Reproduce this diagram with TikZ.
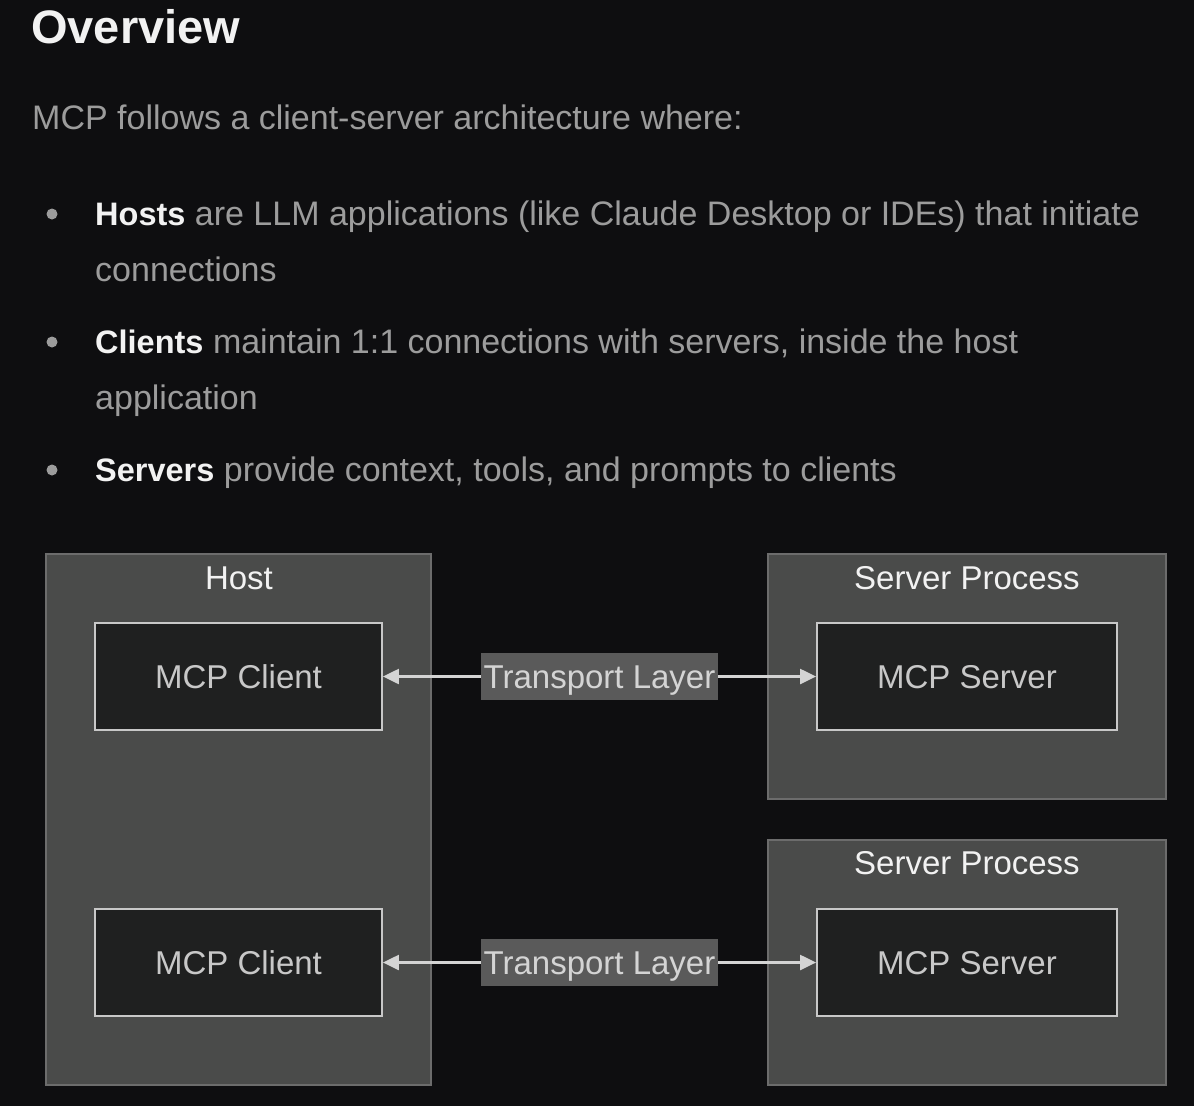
\documentclass[tikz,border=0pt]{standalone}
\usepackage{fontspec}
\setmainfont{Liberation Sans}
\usetikzlibrary{arrows.meta}
\definecolor{bg}{HTML}{0E0E10}
\definecolor{bodytxt}{HTML}{9C9C9C}
\definecolor{strongtxt}{HTML}{F2F2F2}
\definecolor{outerfill}{HTML}{4A4B4A}
\definecolor{outerline}{HTML}{6C6C6C}
\definecolor{innerfill}{HTML}{1F2020}
\definecolor{innerline}{HTML}{C8C8C8}
\definecolor{labfill}{HTML}{5A5A5A}
\definecolor{arrcol}{HTML}{D4D4D4}
\tikzset{
  x=1pt, y=-1pt,
  diagfont/.style={font=\fontsize{33}{38}\selectfont},
  outerbox/.style={draw=outerline, fill=outerfill, line width=1.5pt, rectangle, inner sep=0pt},
  innerbox/.style={draw=innerline, fill=innerfill, line width=1.8pt, rectangle, inner sep=0pt,
    minimum height=107pt, text=innerline, diagfont, text height=31.6pt, text depth=8pt},
  boxtitle/.style={text=strongtxt, diagfont, inner sep=0pt, anchor=base},
  translabel/.style={fill=labfill, inner sep=0pt, minimum width=237pt, minimum height=47pt,
    text=arrcol, diagfont, text height=31.6pt, text depth=8pt},
  arr/.style={draw=arrcol, line width=2.2pt, -{Triangle[length=16pt,width=15pt]}},
  bodyline/.style={anchor=base west, inner sep=0pt, text=bodytxt, font=\fontsize{34}{40}\selectfont},
  bulletdot/.style={circle, fill=bodytxt, inner sep=0pt, minimum size=11pt}
}
\newcommand{\strongword}[1]{\textcolor{strongtxt}{\fontsize{32.5}{40}\selectfont\bfseries #1}}
\begin{document}
\begin{tikzpicture}
\fill[bg] (0,0) rectangle (1194,1106);
\useasboundingbox (0,0) rectangle (1194,1106);

% heading and text
\node[anchor=base west, inner sep=0pt, text=strongtxt, font=\fontsize{47}{56}\selectfont\bfseries] (title) at (31,43) {Overview};
\node[bodyline] (intro) at (32,129) {MCP follows a client-server architecture where:};

\node[bulletdot] (b1) at (52,214) {};
\node[bodyline] (l1) at (95,225) {\strongword{Hosts} are LLM applications (like Claude Desktop or IDEs) that initiate};
\node[bodyline] (l1b) at (95,281) {connections};
\node[bulletdot] (b2) at (52,342) {};
\node[bodyline] (l2) at (95,353) {\strongword{Clients} maintain 1:1 connections with servers, inside the host};
\node[bodyline] (l2b) at (95,409) {application};
\node[bulletdot] (b3) at (52,470) {};
\node[bodyline] (l3) at (95,481) {\strongword{Servers} provide context, tools, and prompts to clients};

% containers
\node[outerbox, minimum width=385pt, minimum height=531pt] (host) at (238.5,819.5) {};
\node[boxtitle] (hostt) at (239,589) {Host};
\node[outerbox, minimum width=398pt, minimum height=245pt] (sp1) at (967,676.5) {};
\node[boxtitle] (sp1t) at (967,589) {Server Process};
\node[outerbox, minimum width=398pt, minimum height=245pt] (sp2) at (967,962.5) {};
\node[boxtitle] (sp2t) at (967,874) {Server Process};

% inner boxes
\node[innerbox, minimum width=287pt] (c1) at (238.5,676.5) {MCP Client};
\node[innerbox, minimum width=287pt] (c2) at (238.5,962.5) {MCP Client};
\node[innerbox, minimum width=300pt] (s1) at (967,676.5) {MCP Server};
\node[innerbox, minimum width=300pt] (s2) at (967,962.5) {MCP Server};

% transport labels
\node[translabel] (t1) at (599.5,676.5) {Transport Layer};
\node[translabel] (t2) at (599.5,962.5) {Transport Layer};

\draw[arr] (t1.west) -- (c1.east);
\draw[arr] (t1.east) -- (s1.west);
\draw[arr] (t2.west) -- (c2.east);
\draw[arr] (t2.east) -- (s2.west);
\end{tikzpicture}
\end{document}
